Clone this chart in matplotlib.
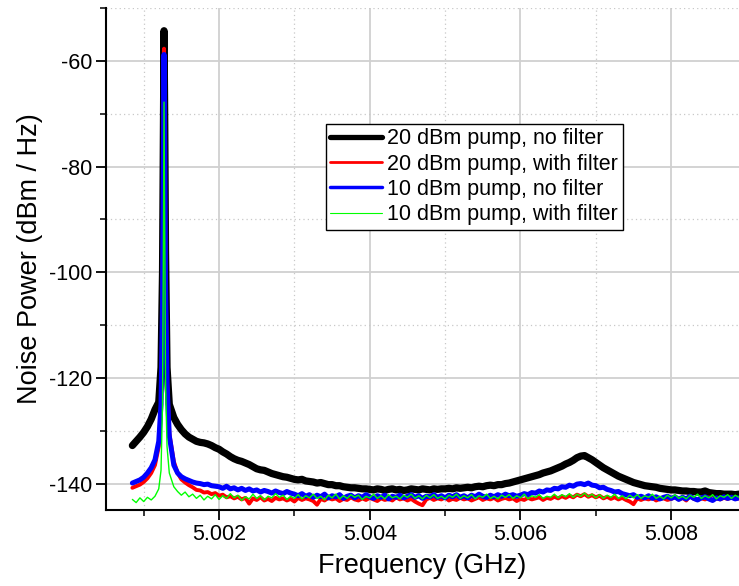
import numpy as np
import matplotlib
matplotlib.use("Agg")
import matplotlib.pyplot as plt
from matplotlib.lines import Line2D
from matplotlib.ticker import FixedLocator, FormatStrFormatter

plt.rcParams['font.family'] = ['Liberation Sans', 'DejaVu Sans']
plt.rcParams['axes.unicode_minus'] = False

# ---------------- data ----------------
freq_pre = [5.00085, 5.00090, 5.00095, 5.00100, 5.00105, 5.00110, 5.00115]
freq_peak = [5.00120, 5.00123, 5.00125, 5.00126, 5.00127, 5.00128, 5.00129, 5.00131, 5.00134]
freq_post = [
    5.00140, 5.00145, 5.00150, 5.00155, 5.00160, 5.00165, 5.00170, 5.00175, 5.00180, 5.00185,
    5.00190, 5.00195, 5.00200, 5.00205, 5.00210, 5.00215, 5.00220, 5.00225, 5.00230, 5.00235,
    5.00240, 5.00245, 5.00250, 5.00255, 5.00260, 5.00265, 5.00270, 5.00275, 5.00280, 5.00285,
    5.00290, 5.00295, 5.00300, 5.00305, 5.00310, 5.00315, 5.00320, 5.00325, 5.00330, 5.00335,
    5.00340, 5.00345, 5.00350, 5.00355, 5.00360, 5.00365, 5.00370, 5.00375, 5.00380, 5.00385,
    5.00390, 5.00395, 5.00400, 5.00405, 5.00410, 5.00415, 5.00420, 5.00425, 5.00430, 5.00435,
    5.00440, 5.00445, 5.00450, 5.00455, 5.00460, 5.00465, 5.00470, 5.00475, 5.00480, 5.00485,
    5.00490, 5.00495, 5.00500, 5.00505, 5.00510, 5.00515, 5.00520, 5.00525, 5.00530, 5.00535,
    5.00540, 5.00545, 5.00550, 5.00555, 5.00560, 5.00565, 5.00570, 5.00575, 5.00580, 5.00585,
    5.00590, 5.00595, 5.00600, 5.00605, 5.00610, 5.00615, 5.00620, 5.00625, 5.00630, 5.00635,
    5.00640, 5.00645, 5.00650, 5.00655, 5.00660, 5.00665, 5.00670, 5.00675, 5.00680, 5.00685,
    5.00690, 5.00695, 5.00700, 5.00705, 5.00710, 5.00715, 5.00720, 5.00725, 5.00730, 5.00735,
    5.00740, 5.00745, 5.00750, 5.00755, 5.00760, 5.00765, 5.00770, 5.00775, 5.00780, 5.00785,
    5.00790, 5.00795, 5.00800, 5.00805, 5.00810, 5.00815, 5.00820, 5.00825, 5.00830, 5.00835,
    5.00840, 5.00845, 5.00850, 5.00855, 5.00860, 5.00865, 5.00870, 5.00875, 5.00880, 5.00885,
    5.00890,
]

# 20 dBm pump, no filter (black)
p20_nofilt_pre = [-132.8, -132.0, -131.2, -130.3, -129.2, -127.8, -126.0]
p20_nofilt_peak = [-124.6, -118.0, -100.0, -76.0, -54.3, -72.0, -96.0, -118.0, -125.0]
p20_nofilt_post = [
    -127.5, -128.8, -129.8, -130.6, -131.2, -131.6, -132.0, -132.2, -132.3, -132.5,
    -132.8, -133.2, -133.5, -134.0, -134.4, -134.9, -135.3, -135.6, -135.8, -136.1,
    -136.4, -136.8, -137.2, -137.4, -137.5, -137.8, -138.1, -138.3, -138.5, -138.7,
    -138.8, -139.0, -139.2, -139.3, -139.2, -139.5, -139.6, -139.7, -139.9, -139.8,
    -140.0, -140.2, -140.2, -140.4, -140.4, -140.6, -140.7, -140.8, -140.8, -140.9,
    -141.0, -141.0, -141.1, -141.2, -141.0, -141.1, -141.3, -141.1, -141.0, -141.2,
    -141.1, -141.3, -141.2, -141.0, -141.1, -141.2, -141.0, -141.1, -141.2, -141.0,
    -141.1, -141.0, -141.0, -140.9, -141.0, -140.8, -140.9, -140.8, -140.7, -140.8,
    -140.6, -140.5, -140.6, -140.4, -140.3, -140.4, -140.2, -140.2, -140.0, -139.9,
    -139.7, -139.5, -139.3, -139.1, -138.9, -138.7, -138.5, -138.3, -138.0, -137.8,
    -137.6, -137.3, -137.0, -136.7, -136.3, -136.0, -135.6, -135.1, -134.8, -134.7,
    -135.1, -135.5, -136.0, -136.5, -137.0, -137.4, -137.8, -138.2, -138.6, -138.9,
    -139.2, -139.5, -139.8, -140.0, -140.2, -140.4, -140.5, -140.6, -140.7, -140.9,
    -141.0, -141.1, -141.2, -141.2, -141.3, -141.4, -141.4, -141.5, -141.5, -141.6,
    -141.6, -141.4, -141.7, -141.8, -141.9, -141.9, -142.0, -142.0, -142.0, -142.1,
    -142.0,
]

# 20 dBm pump, with filter (red)
p20_filt_pre = [-140.8, -140.5, -140.2, -139.7, -139.0, -138.0, -136.5]
p20_filt_peak = [-133.0, -126.0, -105.0, -80.0, -57.7, -76.0, -100.0, -120.0, -130.5]
p20_filt_post = [
    -135.8, -138.0, -139.2, -139.8, -140.3, -140.7, -141.2, -141.3, -141.7, -141.6,
    -142.0, -141.8, -142.3, -142.1, -142.6, -142.4, -142.8, -142.5, -143.0, -142.7,
    -143.8, -142.8, -143.1, -142.6, -143.2, -142.9, -143.3, -142.7, -143.0, -142.8,
    -143.2, -142.9, -143.4, -142.7, -143.1, -142.8, -143.0, -143.3, -144.0, -142.9,
    -143.2, -142.7, -143.0, -142.8, -143.3, -142.9, -143.1, -142.6, -143.0, -143.2,
    -142.8, -143.1, -142.7, -143.0, -143.3, -142.8, -143.1, -142.9, -143.2, -142.6,
    -143.0, -142.8, -143.2, -142.9, -143.4, -143.8, -144.1, -143.0, -142.7, -143.1,
    -142.8, -143.0, -142.6, -143.2, -142.9, -143.1, -142.7, -143.0, -142.8, -143.2,
    -142.9, -142.6, -143.1, -142.8, -143.0, -142.7, -143.2, -142.9, -142.7, -143.0,
    -142.8, -143.3, -142.9, -143.1, -142.7, -143.0, -142.8, -142.6, -143.1, -142.7,
    -142.9, -142.5, -142.8, -142.4, -142.7, -142.3, -142.6, -142.1, -142.4, -142.0,
    -142.5, -142.2, -142.6, -142.3, -142.8, -142.5, -142.9, -142.6, -143.0, -142.7,
    -143.1, -143.4, -143.9, -142.8, -143.1, -142.8, -143.0, -142.7, -143.2, -142.9,
    -142.8, -143.1, -142.9, -142.6, -143.0, -142.7, -143.2, -142.3, -142.9, -143.1,
    -142.8, -143.0, -142.6, -143.1, -142.8, -143.0, -142.7, -142.9, -142.6, -142.9,
    -142.8,
]

# 10 dBm pump, no filter (blue)
p10_nofilt_pre = [-139.9, -139.6, -139.3, -138.8, -138.0, -137.0, -135.5]
p10_nofilt_peak = [-132.0, -125.0, -106.0, -82.0, -58.8, -78.0, -102.0, -121.0, -131.0]
p10_nofilt_post = [
    -136.5, -138.0, -138.7, -139.1, -139.4, -139.7, -139.9, -140.0, -140.2, -140.1,
    -140.4, -140.5, -140.6, -140.9, -140.5, -141.0, -140.8, -141.2, -140.9, -141.3,
    -141.0, -141.4, -141.2, -141.6, -141.3, -141.5, -141.8, -141.4, -141.7, -141.9,
    -141.5, -141.8, -142.0, -142.3, -141.9, -142.4, -142.1, -142.6, -142.2, -142.5,
    -142.0, -142.7, -142.3, -142.5, -142.1, -142.8, -142.4, -142.2, -142.7, -142.3,
    -142.6, -142.1, -142.5, -142.8, -142.3, -142.6, -142.2, -142.9, -142.4, -142.6,
    -142.2, -142.7, -142.4, -142.1, -142.6, -142.3, -142.8, -142.4, -142.5, -142.1,
    -142.6, -142.3, -142.7, -142.2, -142.5, -142.1, -142.6, -142.3, -142.7, -142.2,
    -142.5, -142.0, -142.4, -142.6, -142.2, -142.5, -142.1, -142.4, -142.0, -142.3,
    -142.1, -142.4, -142.2, -141.9, -142.1, -141.7, -141.8, -141.4, -141.6, -141.2,
    -141.3, -140.9, -141.0, -140.6, -140.7, -140.3, -140.5, -140.1, -140.0, -140.2,
    -139.9, -140.3, -140.4, -140.8, -140.7, -141.1, -141.3, -141.6, -141.5, -141.9,
    -142.1, -142.3, -142.1, -142.6, -142.4, -142.7, -142.3, -142.8, -142.5, -142.9,
    -142.6, -142.4, -142.8, -142.5, -143.0, -142.6, -142.9, -142.4, -142.8, -143.1,
    -142.7, -142.5, -142.9, -143.2, -142.7, -142.9, -142.5, -142.8, -142.6, -142.9,
    -142.7,
]

# 10 dBm pump, with filter (green)
p10_filt_pre = [-143.0, -143.6, -142.7, -143.4, -142.6, -143.1, -142.4]
p10_filt_peak = [-141.0, -137.5, -125.0, -100.0, -67.8, -96.0, -121.0, -133.0, -138.0]
p10_filt_post = [
    -140.6, -141.5, -142.2, -141.6, -142.5, -142.0, -142.8, -142.2, -143.1, -142.4,
    -142.9, -142.1, -143.0, -142.3, -142.8, -141.9, -142.7, -142.2, -143.2, -142.5,
    -142.9, -142.0, -142.8, -142.3, -143.1, -142.4, -142.7, -141.9, -142.6, -142.2,
    -143.0, -142.4, -142.8, -142.1, -142.9, -142.3, -142.7, -142.0, -142.8, -142.4,
    -143.1, -142.2, -142.7, -142.0, -142.9, -142.3, -142.8, -142.1, -142.6, -142.2,
    -143.0, -142.4, -142.7, -142.0, -142.8, -142.3, -142.9, -142.1, -142.7, -142.4,
    -142.9, -142.2, -142.6, -142.0, -142.8, -142.3, -142.9, -142.2, -142.7, -142.1,
    -142.8, -142.4, -142.9, -142.2, -142.6, -142.0, -142.8, -142.3, -142.7, -142.1,
    -142.9, -142.3, -142.6, -142.0, -142.8, -142.4, -142.9, -142.2, -142.6, -142.1,
    -142.8, -142.3, -142.7, -142.0, -142.9, -142.3, -142.6, -142.1, -142.8, -142.4,
    -142.6, -142.0, -142.7, -142.1, -142.5, -141.9, -142.6, -142.0, -142.4, -141.8,
    -142.5, -142.0, -142.7, -142.1, -142.8, -142.2, -142.6, -142.0, -142.8, -142.3,
    -142.9, -142.2, -142.7, -142.1, -142.8, -142.3, -142.6, -142.0, -142.8, -142.4,
    -142.9, -142.2, -142.7, -142.1, -142.8, -142.4, -142.9, -142.2, -142.6, -142.0,
    -142.8, -142.3, -142.7, -142.1, -142.9, -142.3, -142.6, -142.1, -142.8, -142.2,
    -142.6,
]

labels = ["20 dBm pump, no filter", "20 dBm pump, with filter",
          "10 dBm pump, no filter", "10 dBm pump, with filter"]
colors = ["#000000", "#ff0000", "#0000ff", "#00ff00"]

# ---------------- assemble ----------------
freq = np.array(freq_pre + freq_peak + freq_post)
series = [
    np.array(p20_nofilt_pre + p20_nofilt_peak + p20_nofilt_post),
    np.array(p20_filt_pre + p20_filt_peak + p20_filt_post),
    np.array(p10_nofilt_pre + p10_nofilt_peak + p10_nofilt_post),
    np.array(p10_filt_pre + p10_filt_peak + p10_filt_post),
]
for s in series:
    assert len(s) == len(freq), (len(s), len(freq))

# ---------------- figure ----------------
W, H = 739, 586
fig = plt.figure(figsize=(W / 100, H / 100), dpi=100)
ax = fig.add_axes([106 / W, 1 - 510 / H, 1 - 106 / W, (510 - 8) / H])

plot_lw = [5.2, 2.8, 3.6, 1.0]
leg_lw = [3.8, 2.0, 2.5, 0.8]
for s, c, lw in zip(series, colors, plot_lw):
    ax.plot(freq, s, color=c, lw=lw, solid_joinstyle='round', solid_capstyle='round', zorder=3)

ax.set_xlim(5.0005, 5.0089)
ax.set_ylim(-145, -50)

ax.xaxis.set_major_locator(FixedLocator([5.002, 5.004, 5.006, 5.008]))
ax.xaxis.set_minor_locator(FixedLocator([5.001, 5.003, 5.005, 5.007]))
ax.xaxis.set_major_formatter(FormatStrFormatter('%.3f'))
ax.yaxis.set_major_locator(FixedLocator([-140, -120, -100, -80, -60]))
ax.yaxis.set_minor_locator(FixedLocator([-130, -110, -90, -70, -50]))
ax.yaxis.set_major_formatter(FormatStrFormatter('%d'))

ax.grid(which='major', color='#d0d0d0', lw=1.3, ls='-', zorder=0)
ax.grid(which='minor', color='#c8c8c8', lw=0.9, ls=(0, (1, 2.5)), zorder=0)
ax.set_axisbelow(True)

for side in ['top', 'right']:
    ax.spines[side].set_visible(False)
for side in ['left', 'bottom']:
    ax.spines[side].set_linewidth(1.5)
    ax.spines[side].set_color('black')

ax.tick_params(which='major', direction='out', length=7, width=1.3, labelsize=15.5, pad=3)
ax.tick_params(which='minor', direction='out', length=4, width=1.1)

ax.set_xlabel("Frequency (GHz)", fontsize=19.5, labelpad=6)
ax.set_ylabel("Noise Power (dBm / Hz)", fontsize=19.5, labelpad=4)

handles = [Line2D([0], [0], color=c, lw=lw, solid_capstyle='round') for c, lw in zip(colors, leg_lw)]
leg = ax.legend(handles, labels, loc='upper left',
                bbox_to_anchor=(326 / W, 1 - 124 / H), bbox_transform=fig.transFigure,
                fontsize=15.5, frameon=True, fancybox=False, framealpha=1,
                edgecolor='black', borderpad=0.2, labelspacing=0.2,
                handlelength=2.4, handletextpad=0.25, borderaxespad=0)
leg.get_frame().set_linewidth(1.0)

fig.savefig("out.png", dpi=100)
